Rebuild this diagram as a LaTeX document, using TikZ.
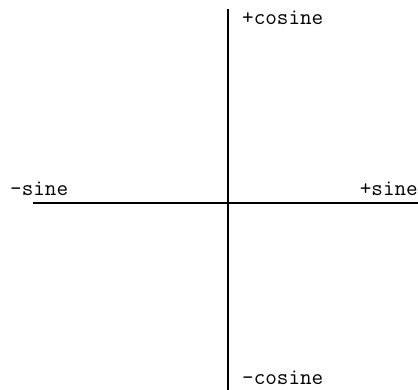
\documentclass[tikz,border=0pt]{standalone}
\usepackage{fontspec}
\usetikzlibrary{positioning}
\tikzset{
  axislabel/.style={inner sep=0pt,font=\ttfamily\fontsize{22.5}{22.5}\selectfont},
  axisline/.style={line width=2.4pt}
}

\begin{document}
\begin{tikzpicture}[x=1pt,y=1pt]
  \useasboundingbox (0,0) rectangle (418,390);
  \coordinate (top) at (228,381);
  \coordinate (bottom) at (228,0);
  \coordinate (left) at (33,187);
  \coordinate (right) at (418,187);
  \draw[axisline] (top) -- (bottom);
  \draw[axisline] (left) -- (right);
  \node[axislabel,anchor=base west] (pcos) at (242,365) {+cosine};
  \node[axislabel,anchor=base west] (mcos) at (242,5) {-cosine};
  \node[axislabel,anchor=base west] (msin) at (10,194) {-sine};
  \node[axislabel,anchor=base east] (psin) at (418,194) {+sine};
\end{tikzpicture}
\end{document}
